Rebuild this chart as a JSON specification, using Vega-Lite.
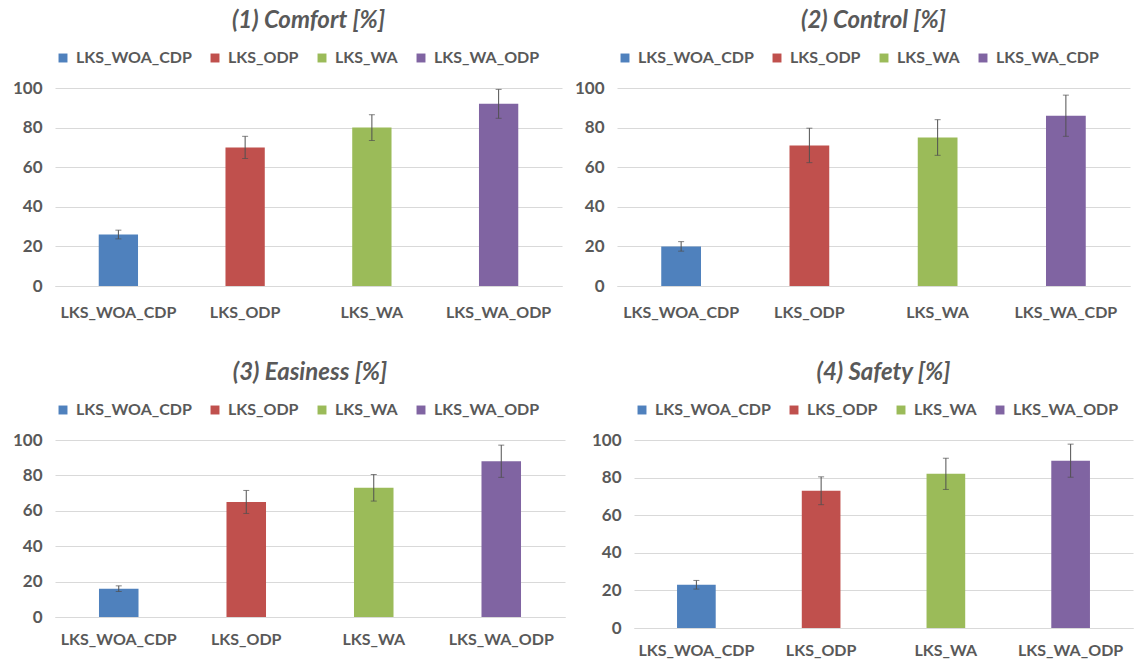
{
  "$schema": "https://vega.github.io/schema/vega-lite/v6.json",
  "background": "white",
  "padding": {"left": 12, "top": 9, "right": 1, "bottom": 1},
  "config": {
    "view": {"stroke": null},
    "font": "Lato",
    "title": {"font": "Lato", "fontSize": 24, "fontWeight": "bold", "fontStyle": "italic", "color": "#595959", "anchor": "middle", "offset": 17},
    "axisY": {"domain": false, "ticks": false, "gridColor": "#D9D9D9", "gridWidth": 1, "labelFont": "Lato", "labelFontSize": 17, "labelFontWeight": "bold", "labelColor": "#595959", "labelPadding": 13, "values": [0, 20, 40, 60, 80, 100]},
    "axisX": {"domain": true, "domainColor": "#D9D9D9", "ticks": false, "grid": false, "labelFont": "Lato", "labelFontSize": 16, "labelFontWeight": "bold", "labelColor": "#595959", "labelPadding": 18, "labelAngle": 0},
    "legend": {"orient": "top", "direction": "horizontal", "title": null, "symbolType": "square", "symbolSize": 80, "symbolStrokeWidth": 0, "labelFont": "Lato", "labelFontSize": 16, "labelFontWeight": "bold", "labelColor": "#595959", "columnPadding": 15, "labelOffset": 5, "offset": 22}
  },
  "datasets": {
    "comfort": [
      {"cond": "LKS_WOA_CDP", "value": 26, "err": 2.2},
      {"cond": "LKS_ODP", "value": 70, "err": 5.6},
      {"cond": "LKS_WA", "value": 80, "err": 6.5},
      {"cond": "LKS_WA_ODP", "value": 92, "err": 7.3}
    ],
    "control": [
      {"cond": "LKS_WOA_CDP", "value": 20, "err": 2.4},
      {"cond": "LKS_ODP", "value": 71, "err": 8.7},
      {"cond": "LKS_WA", "value": 75, "err": 9.0},
      {"cond": "LKS_WA_CDP", "value": 86, "err": 10.4}
    ],
    "easiness": [
      {"cond": "LKS_WOA_CDP", "value": 16, "err": 1.6},
      {"cond": "LKS_ODP", "value": 65, "err": 6.5},
      {"cond": "LKS_WA", "value": 73, "err": 7.5},
      {"cond": "LKS_WA_ODP", "value": 88, "err": 9.1}
    ],
    "safety": [
      {"cond": "LKS_WOA_CDP", "value": 23, "err": 2.3},
      {"cond": "LKS_ODP", "value": 73, "err": 7.4},
      {"cond": "LKS_WA", "value": 82, "err": 8.3},
      {"cond": "LKS_WA_ODP", "value": 89, "err": 8.8}
    ]
  },
  "resolve": {"scale": {"color": "independent", "x": "independent", "y": "independent"}, "legend": {"color": "independent"}},
  "spacing": 41,
  "vconcat": [
    {
      "spacing": 12,
      "resolve": {"scale": {"color": "independent", "x": "independent", "y": "independent"}, "legend": {"color": "independent"}},
      "hconcat": [
        {
          "title": "(1) Comfort [%]",
          "width": 507, "height": 198,
          "data": {"name": "comfort"},
          "encoding": {"x": {"field": "cond", "type": "nominal", "sort": null, "title": null, "scale": {"paddingInner": 0, "paddingOuter": 0}}},
          "layer": [
            {"mark": {"type": "bar", "width": {"band": 0.31}},
             "encoding": {"y": {"field": "value", "type": "quantitative", "title": null, "scale": {"domain": [0, 100]}},
                          "color": {"field": "cond", "type": "nominal", "sort": null, "scale": {"range": ["#4F81BD", "#C0504D", "#9BBB59", "#8064A2"]}}}},
            {"mark": {"type": "errorbar", "ticks": {"size": 6, "color": "#505050"}, "color": "#505050", "thickness": 1},
             "encoding": {"y": {"field": "value", "type": "quantitative", "title": null}, "yError": {"field": "err"}}}
          ]
        },
        {
          "title": "(2) Control [%]",
          "width": 513, "height": 198,
          "data": {"name": "control"},
          "encoding": {"x": {"field": "cond", "type": "nominal", "sort": null, "title": null, "scale": {"paddingInner": 0, "paddingOuter": 0}}},
          "layer": [
            {"mark": {"type": "bar", "width": {"band": 0.31}},
             "encoding": {"y": {"field": "value", "type": "quantitative", "title": null, "scale": {"domain": [0, 100]}},
                          "color": {"field": "cond", "type": "nominal", "sort": null, "scale": {"range": ["#4F81BD", "#C0504D", "#9BBB59", "#8064A2"]}}}},
            {"mark": {"type": "errorbar", "ticks": {"size": 6, "color": "#505050"}, "color": "#505050", "thickness": 1},
             "encoding": {"y": {"field": "value", "type": "quantitative", "title": null}, "yError": {"field": "err"}}}
          ]
        }
      ]
    },
    {
      "spacing": 26,
      "resolve": {"scale": {"color": "independent", "x": "independent", "y": "independent"}, "legend": {"color": "independent"}},
      "hconcat": [
        {
          "title": "(3) Easiness [%]",
          "width": 510, "height": 177,
          "data": {"name": "easiness"},
          "encoding": {"x": {"field": "cond", "type": "nominal", "sort": null, "title": null, "axis": {"labelPadding": 14}, "scale": {"paddingInner": 0, "paddingOuter": 0}}},
          "layer": [
            {"mark": {"type": "bar", "width": {"band": 0.31}},
             "encoding": {"y": {"field": "value", "type": "quantitative", "title": null, "scale": {"domain": [0, 100]}},
                          "color": {"field": "cond", "type": "nominal", "sort": null, "scale": {"range": ["#4F81BD", "#C0504D", "#9BBB59", "#8064A2"]}}}},
            {"mark": {"type": "errorbar", "ticks": {"size": 6, "color": "#505050"}, "color": "#505050", "thickness": 1},
             "encoding": {"y": {"field": "value", "type": "quantitative", "title": null}, "yError": {"field": "err"}}}
          ]
        },
        {
          "title": "(4) Safety [%]",
          "width": 499, "height": 188,
          "data": {"name": "safety"},
          "encoding": {"x": {"field": "cond", "type": "nominal", "sort": null, "title": null, "axis": {"labelPadding": 14}, "scale": {"paddingInner": 0, "paddingOuter": 0}}},
          "layer": [
            {"mark": {"type": "bar", "width": {"band": 0.31}},
             "encoding": {"y": {"field": "value", "type": "quantitative", "title": null, "scale": {"domain": [0, 100]}},
                          "color": {"field": "cond", "type": "nominal", "sort": null, "scale": {"range": ["#4F81BD", "#C0504D", "#9BBB59", "#8064A2"]}}}},
            {"mark": {"type": "errorbar", "ticks": {"size": 6, "color": "#505050"}, "color": "#505050", "thickness": 1},
             "encoding": {"y": {"field": "value", "type": "quantitative", "title": null}, "yError": {"field": "err"}}}
          ]
        }
      ]
    }
  ]
}
